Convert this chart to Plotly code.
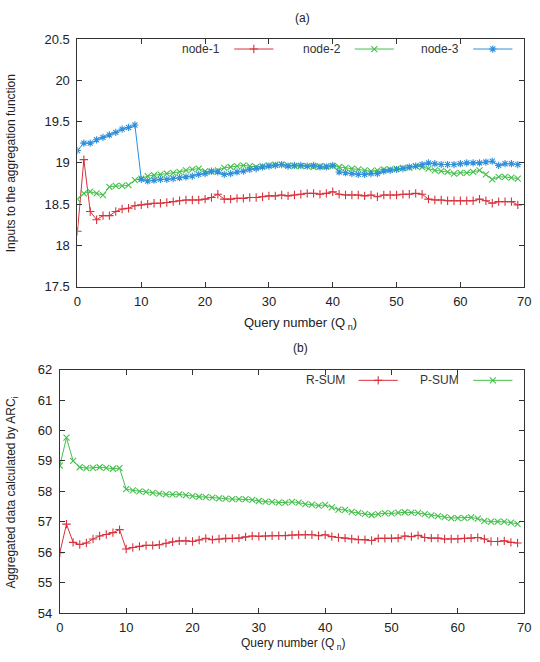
import plotly.graph_objects as go

# ---------------- data ----------------
query = list(range(70))

node1 = [18.17, 19.04, 18.41, 18.31, 18.36, 18.36, 18.41, 18.44, 18.45, 18.48,
         18.49, 18.50, 18.51, 18.51, 18.52, 18.53, 18.54, 18.55, 18.55, 18.55,
         18.56, 18.58, 18.62, 18.56, 18.56, 18.57, 18.57, 18.58, 18.58, 18.59,
         18.60, 18.60, 18.61, 18.60, 18.61, 18.62, 18.63, 18.63, 18.62, 18.63,
         18.65, 18.62, 18.61, 18.61, 18.61, 18.60, 18.61, 18.59, 18.61, 18.61,
         18.61, 18.62, 18.62, 18.63, 18.62, 18.56, 18.55, 18.55, 18.54, 18.54,
         18.54, 18.54, 18.54, 18.56, 18.54, 18.51, 18.53, 18.53, 18.53, 18.49]

node2 = [18.56, 18.63, 18.65, 18.63, 18.61, 18.71, 18.72, 18.72, 18.73, 18.79,
         18.81, 18.84, 18.85, 18.86, 18.87, 18.88, 18.89, 18.91, 18.92, 18.93,
         18.90, 18.89, 18.91, 18.94, 18.95, 18.96, 18.97, 18.96, 18.95, 18.96,
         18.97, 18.98, 18.98, 18.97, 18.96, 18.96, 18.96, 18.95, 18.96, 18.96,
         18.96, 18.95, 18.94, 18.93, 18.92, 18.91, 18.90, 18.91, 18.92, 18.92,
         18.93, 18.94, 18.94, 18.96, 18.95, 18.93, 18.91, 18.90, 18.89, 18.87,
         18.88, 18.88, 18.89, 18.91, 18.86, 18.80, 18.83, 18.83, 18.82, 18.81]

node3 = [19.15, 19.24, 19.24, 19.28, 19.31, 19.34, 19.37, 19.41, 19.43, 19.46,
         18.80, 18.78, 18.79, 18.80, 18.80, 18.81, 18.82, 18.83, 18.84, 18.86,
         18.87, 18.90, 18.89, 18.86, 18.87, 18.89, 18.90, 18.92, 18.93, 18.95,
         18.96, 18.97, 18.98, 18.96, 18.97, 18.97, 18.96, 18.97, 18.95, 18.95,
         18.97, 18.89, 18.88, 18.87, 18.86, 18.86, 18.87, 18.87, 18.90, 18.91,
         18.92, 18.93, 18.95, 18.96, 18.98, 19.00, 18.99, 18.98, 18.98, 18.98,
         18.99, 19.00, 19.00, 19.00, 19.01, 19.02, 18.97, 18.99, 18.99, 18.98]

r_sum = [55.98, 56.92, 56.32, 56.25, 56.30, 56.43, 56.53, 56.58, 56.64, 56.74,
         56.10, 56.15, 56.19, 56.22, 56.22, 56.24, 56.29, 56.34, 56.37, 56.37,
         56.35, 56.40, 56.45, 56.41, 56.43, 56.45, 56.45, 56.46, 56.50, 56.53,
         56.52, 56.53, 56.54, 56.54, 56.54, 56.56, 56.57, 56.57, 56.57, 56.54,
         56.57, 56.51, 56.48, 56.46, 56.43, 56.41, 56.41, 56.38, 56.45, 56.45,
         56.45, 56.46, 56.53, 56.51, 56.55, 56.48, 56.46, 56.46, 56.43, 56.43,
         56.43, 56.45, 56.46, 56.48, 56.43, 56.35, 56.35, 56.37, 56.32, 56.30]

p_sum = [58.84, 59.76, 59.00, 58.79, 58.76, 58.77, 58.79, 58.77, 58.74, 58.76,
         58.07, 58.03, 58.00, 57.98, 57.95, 57.92, 57.90, 57.90, 57.90, 57.87,
         57.84, 57.82, 57.81, 57.79, 57.77, 57.76, 57.74, 57.74, 57.74, 57.72,
         57.68, 57.66, 57.65, 57.63, 57.63, 57.65, 57.63, 57.58, 57.56, 57.53,
         57.55, 57.47, 57.40, 57.39, 57.32, 57.29, 57.26, 57.22, 57.25, 57.28,
         57.27, 57.30, 57.31, 57.30, 57.29, 57.25, 57.21, 57.18, 57.15, 57.12,
         57.12, 57.12, 57.14, 57.10, 57.03, 57.00, 57.00, 57.00, 56.97, 56.93]

top_names = ["node-1", "node-2", "node-3"]
bottom_names = ["R-SUM", "P-SUM"]

# ---------------- style ----------------
RED = "#d8323c"
GREEN = "#44c04c"
BLUE = "#2f8fdc"
AXC = "#333333"
FONT = "Liberation Sans, Arial, sans-serif"
W, H = 540, 662
MS = 6
LW = 1.0

def px(x):
    return x / W

def py(y):
    return 1 - y / H

fig = go.Figure()

top_series = [(node1, RED, "cross-thin-open"),
              (node2, GREEN, "x-thin-open"),
              (node3, BLUE, "asterisk-open")]
for (vals, col, sym), nm in zip(top_series, top_names):
    fig.add_trace(go.Scatter(x=query, y=vals, mode="lines+markers", name=nm,
                             line=dict(color=col, width=LW),
                             marker=dict(symbol=sym, size=MS, color=col,
                                         line=dict(color=col, width=1.1)),
                             xaxis="x", yaxis="y", showlegend=False))

bottom_series = [(r_sum, RED, "cross-thin-open"), (p_sum, GREEN, "x-thin-open")]
for (vals, col, sym), nm in zip(bottom_series, bottom_names):
    fig.add_trace(go.Scatter(x=query, y=vals, mode="lines+markers", name=nm,
                             line=dict(color=col, width=LW),
                             marker=dict(symbol=sym, size=MS, color=col,
                                         line=dict(color=col, width=1.1)),
                             xaxis="x2", yaxis="y2", showlegend=False))

# ---------------- custom gnuplot-style legend keys (pixel overlay axis) ----------------
legend_items = [
    (top_names[0], RED, "cross-thin-open", 223, 43),
    (top_names[1], GREEN, "x-thin-open", 346, 43),
    (top_names[2], BLUE, "asterisk-open", 467, 43),
    (bottom_names[0], RED, "cross-thin-open", 350, 382),
    (bottom_names[1], GREEN, "x-thin-open", 467, 382),
]
annotations = []
for nm, col, sym, xe, yy in legend_items:
    x0, x1 = xe + 12, xe + 52
    fig.add_trace(go.Scatter(x=[x0, x1], y=[yy, yy], mode="lines",
                             line=dict(color=col, width=LW),
                             xaxis="x3", yaxis="y3", showlegend=False, hoverinfo="skip"))
    fig.add_trace(go.Scatter(x=[(x0 + x1) / 2], y=[yy], mode="markers",
                             marker=dict(symbol=sym, size=MS, color=col,
                                         line=dict(color=col, width=1.1)),
                             xaxis="x3", yaxis="y3", showlegend=False, hoverinfo="skip"))
    annotations.append(dict(x=px(xe), y=py(yy), xref="paper", yref="paper",
                            text=nm, showarrow=False, xanchor="right", yanchor="middle",
                            font=dict(family=FONT, size=12, color="#333333")))

def ann(x, y, text, size=12, angle=0):
    return dict(x=px(x), y=py(y), xref="paper", yref="paper", text=text,
                showarrow=False, xanchor="center", yanchor="middle", textangle=angle,
                font=dict(family=FONT, size=size, color="#222"))

annotations += [
    ann(305, 11, "(a)"),
    ann(303, 349, "(b)"),
    ann(303, 324, "Query number (Q<sub> n</sub>)", 13),
    ann(295, 652, "Query number (Q<sub> n</sub>)", 12),
    ann(8, 160, "Inputs to the aggregation function", 12, -90),
    ann(8, 497, "Aggregated data calculated by ARC<sub>i</sub>", 12, -90),
]

axis_common = dict(showgrid=False, zeroline=False, showline=True, linecolor=AXC,
                   linewidth=1, mirror="ticks", ticks="inside", ticklen=5,
                   tickcolor=AXC, tickfont=dict(family=FONT, size=13, color="#222"))

fig.update_layout(
    width=W, height=H, margin=dict(l=0, r=0, t=0, b=0),
    paper_bgcolor="white", plot_bgcolor="rgba(0,0,0,0)",
    xaxis=dict(domain=[px(75), px(531)], range=[0, 70], dtick=10, tick0=0,
               anchor="y", ticklabelstandoff=3, **axis_common),
    yaxis=dict(domain=[py(286), py(33)], range=[17.5, 20.5], dtick=0.5, tick0=17.5,
               anchor="x", ticklabelstandoff=4, **axis_common),
    xaxis2=dict(domain=[px(57), px(531)], range=[0, 70], dtick=10, tick0=0,
                anchor="y2", ticklabelstandoff=2, **axis_common),
    yaxis2=dict(domain=[py(620), py(371)], range=[54, 62], dtick=1, tick0=54,
                anchor="x2", ticklabelstandoff=4, **axis_common),
    xaxis3=dict(domain=[0, 1], range=[0, W], visible=False, anchor="y3"),
    yaxis3=dict(domain=[0, 1], range=[H, 0], visible=False, anchor="x3"),
    annotations=annotations,
    showlegend=False,
)

fig.write_html("out.html")
